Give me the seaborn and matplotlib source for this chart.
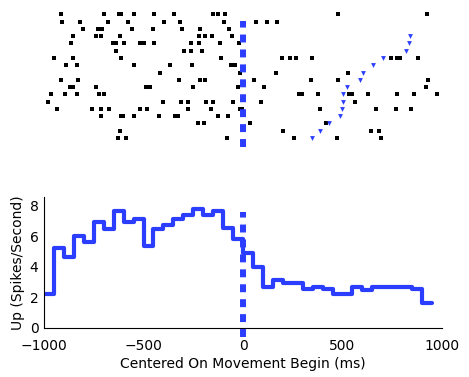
import numpy as np
import pandas as pd
import matplotlib
matplotlib.use("Agg")
import matplotlib.pyplot as plt
import seaborn as sns

# ---------------- data ----------------
# spike times (ms, relative to movement begin) for each trial (top to bottom)
trial_spikes = [
    [-914, -698, -623, -613, -549, -447, -348, -151, -126, -89, 477, 926],
    [-911, -819, -676, -578, -397, -318, -95, 64, 119, 172],
    [-804, -727, -710, -556, -452, -305, -218, -69],
    [-855, -740, -716, -618, -223, -192, -157, -55],
    [-865, -653, -636, -596, -519, -499, -447, -263, -223, -117, -18],
    [-638, -296, -263, -204],
    [-951, -855, -613, -110, 194, 234, 266, 348, 745, 775, 790, 881],
    [-887, -832, -549, -365, -256, -59, -40],
    [-417, -17, 166, 526],
    [-917, -829, -321, -214, -189, 55, 341, 477, 931],
    [-870, -854, -740, -485, -469, -249, -25, 105, 921],
    [-964, -894, -832, -725, -701, 280, 296, 375, 532, 549, 626, 775, 860, 973],
    [-978, -402, -310, -276, -184, -151, -50, 92, 561],
    [-934, -760, -716, -671, -517, -482, -276, -159, -17, -7, 385, 666, 770, 842],
    [-713, -613, -603, -549, -424, -343, -326, -127, -74],
    [-228, -198, 34, 415],
    [-616, 199, 645, 681],
    [-626, -586, -79, 258, 472, 695],
]
# second behavioural event per trial (blue markers), ms
trial_event2 = [np.nan, np.nan, np.nan, 837, 832, 820, 706, 653, 603, 586,
                521, 502, 502, 496, 485, 432, 385, 348]

# PSTH (50 ms bins)
bin_left = [-1000, -950, -900, -850, -800, -750, -700, -650, -600, -550,
            -500, -450, -400, -350, -300, -250, -200, -150, -100, -50,
            0, 50, 100, 150, 200, 250, 300, 350, 400, 450,
            500, 550, 600, 650, 700, 750, 800, 850, 900]
bin_width = 50
rate = [2.19, 5.25, 4.66, 6.03, 5.6, 6.9, 6.47, 7.65, 6.95, 7.13,
        5.38, 6.49, 6.71, 7.13, 7.41, 7.8, 7.37, 7.67, 6.51, 5.8,
        4.9, 4.0, 2.69, 3.13, 2.95, 2.95, 2.51, 2.69, 2.51, 2.2,
        2.2, 2.69, 2.47, 2.69, 2.69, 2.69, 2.69, 2.54, 1.6]

event_time = 0
xticks = [-1000, -500, 0, 500, 1000]
yticks = [0, 2, 4, 6, 8]
xlabel = "Centered On Movement Begin (ms)"
ylabel = "Up (Spikes/Second)"

# ---------------- style ----------------
BLUE = "#2b3dff"
sns.set_theme(style="white")
plt.rcParams["font.family"] = ["DejaVu Sans"]

W, H = 469, 377
fig = plt.figure(figsize=(W / 100, H / 100), dpi=100)

# ---------------- raster ----------------
ax_r = fig.add_axes([44 / W, 1 - 150 / H, 398 / W, 140 / H])
raster = pd.DataFrame(
    [(t, i) for i, row in enumerate(trial_spikes) for t in row],
    columns=["time", "trial"])
ev2 = pd.DataFrame({"time": trial_event2, "trial": range(len(trial_event2))}).dropna()

sns.scatterplot(data=raster, x="time", y="trial", marker="s", s=8,
                color="black", linewidth=0, ax=ax_r, legend=False)
sns.scatterplot(data=ev2, x="time", y="trial", marker="v", s=12,
                color=BLUE, linewidth=0, ax=ax_r, legend=False)
ax_r.axvline(event_time, ymin=0.024, ymax=0.924, color=BLUE, lw=4.3,
             linestyle=(0, (1.33, 1.17)))
ax_r.set_xlim(-1000, 1000)
ax_r.set_ylim(18.65, -0.591)
ax_r.axis("off")

# ---------------- PSTH ----------------
ax = fig.add_axes([44 / W, 1 - 327.7 / H, 398 / W, 130.4 / H])
edges = bin_left + [bin_left[-1] + bin_width]
psth = pd.DataFrame({"time": edges, "rate": rate + [rate[-1]]})
sns.lineplot(data=psth, x="time", y="rate", drawstyle="steps-post",
             color=BLUE, lw=3.0, estimator=None, ax=ax)
ax.axvline(event_time, ymin=-0.071, ymax=0.887, color=BLUE, lw=4.3,
           linestyle=(0, (1.33, 1.17)), clip_on=False)

ax.set_xlim(-1000, 1000)
ax.set_ylim(0, 8.55)
ax.set_xticks(xticks)
ax.set_yticks(yticks)
ax.set_xticklabels([f"{v:d}".replace("-", "\u2212") for v in xticks])
for s in ["top", "right"]:
    ax.spines[s].set_visible(False)
for s in ["left", "bottom"]:
    ax.spines[s].set_color("black")
    ax.spines[s].set_linewidth(0.8)
ax.tick_params(direction="in", length=3, width=0.8, color="black",
               labelsize=10, labelcolor="black")
ax.tick_params(axis="x", pad=8)
ax.tick_params(axis="y", pad=4)
ax.set_xlabel(xlabel, fontsize=10, color="black", labelpad=3)
ax.set_ylabel(ylabel, fontsize=10, color="black", labelpad=3)

fig.savefig("out.png", dpi=100)
